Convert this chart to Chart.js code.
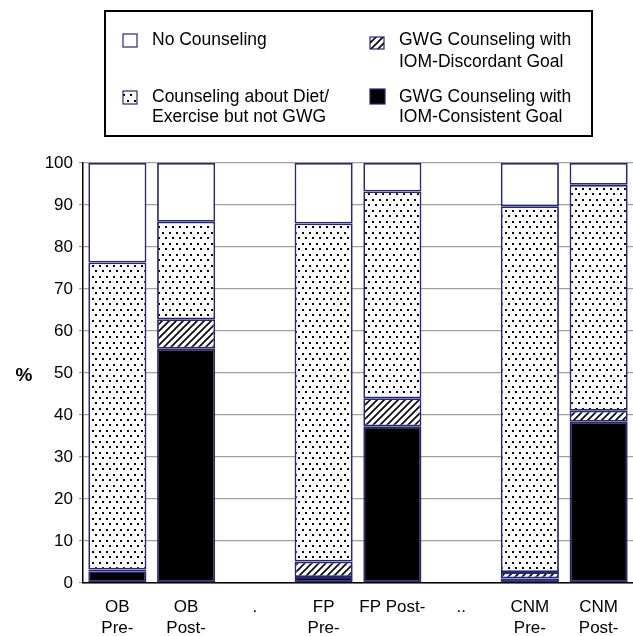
<!DOCTYPE html>
<html>
<head>
    <title>GWG Counseling by Provider Type</title>
    <script src="https://cdn.jsdelivr.net/npm/chart.js"></script>
    <style>
        body { margin: 0; background: #ffffff; }
        canvas { display: block; }
    </style>
</head>
<body>
    <canvas id="counseling-chart" width="633" height="636"></canvas>

    <script>
        // categories (blank "." and ".." spacers between provider groups)
        const categories = [['OB', 'Pre-'], ['OB', 'Post-'], '.', ['FP', 'Pre-'], 'FP Post-', '..', ['CNM', 'Pre-'], ['CNM', 'Post-']];

        // series values in %
        const consistentGoal = [2.8, 55.8, null, 1.4, 37.3, null, 1.1, 38.4];
        const discordantGoal = [0.4, 7.0, null, 3.7, 6.7, null, 1.5, 2.6];
        const dietExercise = [73.1, 23.2, null, 80.5, 49.2, null, 87.1, 53.8];
        const noCounseling = [23.7, 14.0, null, 14.4, 6.8, null, 10.3, 5.2];

        const yTicks = [0, 10, 20, 30, 40, 50, 60, 70, 80, 90, 100];

        const navy = '#26267a';
        const font = '"Liberation Sans", Arial, Helvetica, sans-serif';

        function makePattern(w, h, draw) {
            const c = document.createElement('canvas');
            c.width = w;
            c.height = h;
            const g = c.getContext('2d');
            g.fillStyle = '#ffffff';
            g.fillRect(0, 0, w, h);
            draw(g);
            return c.getContext('2d').createPattern(c, 'repeat');
        }

        const dots = makePattern(7, 11, g => {
            g.fillStyle = '#000000';
            g.fillRect(1, 1, 2, 2);
            g.fillRect(4, 6, 2, 2);
        });

        const hatch = makePattern(7, 7, g => {
            g.strokeStyle = '#000000';
            g.lineWidth = 1.6;
            g.beginPath();
            g.moveTo(-1, 8); g.lineTo(8, -1);
            g.moveTo(-2, 2); g.lineTo(2, -2);
            g.moveTo(5, 9); g.lineTo(9, 5);
            g.stroke();
        });

        // legend box drawn on the canvas, two columns like the original
        const legendBox = {
            id: 'legendBox',
            afterDraw(chart) {
                const ctx = chart.ctx;
                const ds = chart.data.datasets;
                ctx.save();
                ctx.strokeStyle = '#000000';
                ctx.lineWidth = 2;
                ctx.strokeRect(105, 11, 487, 125);

                const items = [
                    { d: 3, sx: 123, sy: 34, sw: 14, sh: 13, tx: 152, ty: [40] },
                    { d: 2, sx: 123, sy: 91, sw: 14, sh: 13, tx: 152, ty: [97, 117] },
                    { d: 1, sx: 370, sy: 37, sw: 14, sh: 12, tx: 399, ty: [40, 62] },
                    { d: 0, sx: 370, sy: 89, sw: 15, sh: 15, tx: 399, ty: [97, 117] }
                ];
                ctx.font = '17.5px ' + font;
                ctx.textBaseline = 'middle';
                ctx.textAlign = 'left';
                items.forEach(it => {
                    const set = ds[it.d];
                    ctx.fillStyle = set.backgroundColor;
                    ctx.fillRect(it.sx, it.sy, it.sw, it.sh);
                    ctx.strokeStyle = navy;
                    ctx.lineWidth = 1.2;
                    ctx.strokeRect(it.sx, it.sy, it.sw, it.sh);
                    ctx.fillStyle = '#000000';
                    set.label.forEach((line, i) => ctx.fillText(line, it.tx, it.ty[i]));
                });

                // y axis caption, not rotated
                ctx.font = 'bold 19px ' + font;
                ctx.textAlign = 'center';
                ctx.fillText('%', 24, 376);
                ctx.restore();
            }
        };

        const ctx = document.getElementById('counseling-chart').getContext('2d');
        new Chart(ctx, {
            type: 'bar',
            data: {
                labels: categories,
                datasets: [
                    { label: ['GWG Counseling with', 'IOM-Consistent Goal'], data: consistentGoal, backgroundColor: '#000000' },
                    { label: ['GWG Counseling with', 'IOM-Discordant Goal'], data: discordantGoal, backgroundColor: hatch },
                    { label: ['Counseling about Diet/', 'Exercise but not GWG'], data: dietExercise, backgroundColor: dots },
                    { label: ['No Counseling'], data: noCounseling, backgroundColor: '#ffffff' }
                ].map(d => Object.assign(d, {
                    borderColor: navy,
                    borderWidth: 1.8,
                    borderSkipped: false,
                    categoryPercentage: 1,
                    barPercentage: 0.845
                }))
            },
            options: {
                responsive: false,
                animation: false,
                devicePixelRatio: 1,
                layout: { padding: { top: 163, right: 0, left: 0, bottom: 0 } },
                plugins: {
                    legend: { display: false },
                    tooltip: { enabled: false }
                },
                scales: {
                    x: {
                        stacked: true,
                        grid: { display: false, drawTicks: false },
                        border: { color: '#000000', width: 1.5 },
                        ticks: {
                            color: '#000000',
                            font: { family: font, size: 17, lineHeight: 1.22 },
                            padding: 14,
                            maxRotation: 0,
                            autoSkip: false
                        },
                        afterFit: scale => { scale.height = 53; }
                    },
                    y: {
                        stacked: true,
                        min: 0,
                        max: 100,
                        afterBuildTicks: scale => { scale.ticks = yTicks.map(v => ({ value: v })); },
                        grid: { color: '#a0a0a0', lineWidth: 1.2, tickLength: 4 },
                        border: { color: '#000000', width: 1.5 },
                        ticks: {
                            color: '#000000',
                            font: { family: font, size: 17 },
                            padding: 6
                        },
                        afterFit: scale => { scale.width = 83; }
                    }
                }
            },
            plugins: [legendBox]
        });
    </script>
</body>
</html>
